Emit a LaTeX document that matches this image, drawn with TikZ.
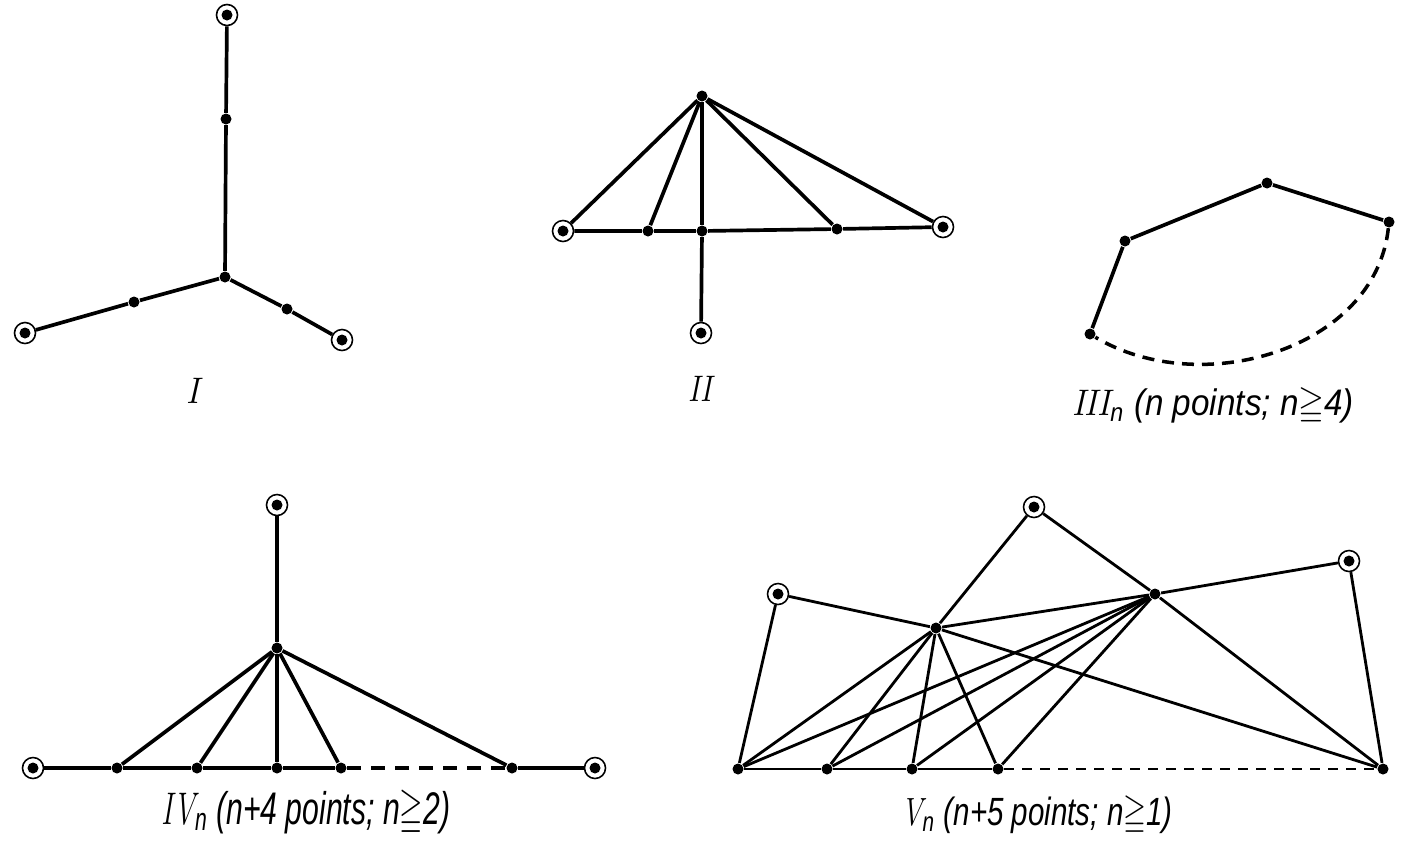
\documentclass[tikz,border=0pt]{standalone}
\usepackage{amssymb}
\usepackage{fontspec}
\newfontfamily\lblfont{Liberation Sans}
\newcommand{\graphname}[3]{\scalebox{#1}[1]{\fontsize{#2}{#2}\selectfont #3}}
\tikzset{
	pt/.style={circle, fill=black, inner sep=0pt, minimum size=0.11cm},
	ring/.style={circle, draw=black, line width=0.45pt, fill=white, inner sep=0pt, minimum size=0.21cm,
		path picture={\fill[black] (path picture bounding box.center) circle (0.055cm);}},
	edge/.style={line width=1.05pt},
	thinedge/.style={line width=0.8pt},
	dashedge/.style={line width=1pt, dash pattern=on 0.12cm off 0.08cm},
	lbl/.style={font=\lblfont\itshape, inner sep=0pt}
}

\begin{document}
\begin{tikzpicture}[x=0.01cm, y=-0.01cm]
			%%%%% START %%%%%
			\useasboundingbox (0,0) rectangle (1410,848);
			
			% graph I
			\node[ring] (Itop) at (227,15) {};
			\node[pt] (Imid) at (226,119) {};
			\node[pt] (Ic) at (225,277) {};
			\node[pt] (Ilm) at (134,302) {};
			\node[ring] (Il) at (25,333) {};
			\node[pt] (Irm) at (287,309) {};
			\node[ring] (Ir) at (342,340) {};
			\draw[edge] (Itop) -- (Imid) -- (Ic);
			\draw[edge] (Ic) -- (Ilm) -- (Il);
			\draw[edge] (Ic) -- (Irm) -- (Ir);
			\node[lbl] (labI) at (193,391) {\graphname{0.9}{10.5}{\rmfamily I}};
			
			% graph II
			\node[pt] (IIa) at (702,96) {};
			\node[ring] (IIl) at (563,231) {};
			\node[pt] (IIp) at (648,231) {};
			\node[pt] (IIc) at (702,231) {};
			\node[pt] (IIq) at (837,229) {};
			\node[ring] (IIr) at (943,227) {};
			\node[ring] (IIb) at (701,333) {};
			\foreach \t in {IIl,IIp,IIc,IIq,IIr}
				\draw[edge] (IIa) -- (\t);
			\draw[edge] (IIl) -- (IIp) -- (IIc) -- (IIq) -- (IIr);
			\draw[edge] (IIc) -- (IIb);
			\node[lbl] (labII) at (700,389) {\graphname{0.8}{10.5}{\rmfamily II}};
			
			% graph III_n
			\node[pt] (IIIa) at (1090,334) {};
			\node[pt] (IIIb) at (1125,241) {};
			\node[pt] (IIIc) at (1267,183) {};
			\node[pt] (IIId) at (1389,222) {};
			\draw[edge] (IIIa) -- (IIIb) -- (IIIc) -- (IIId);
			\draw[dashedge] (IIId) .. controls (1375,350) and (1200,400) .. (IIIa);
			\node[lbl] (labIII) at (1213,406) {\graphname{0.9}{10.5}{{\rmfamily III}\textsubscript{n} (n points; n$\geqq$4)}};
			
			% graph IV_n
			\node[ring] (IVt) at (277,505) {};
			\node[pt] (IVh) at (277,648) {};
			\node[ring] (IVl) at (33,768) {};
			\node[pt] (IVb1) at (117,768) {};
			\node[pt] (IVb2) at (197,768) {};
			\node[pt] (IVb3) at (277,768) {};
			\node[pt] (IVb4) at (341,768) {};
			\node[pt] (IVb5) at (512,768) {};
			\node[ring] (IVr) at (595,768) {};
			\draw[edge] (IVt) -- (IVh);
			\foreach \t in {IVb1,IVb2,IVb3,IVb4,IVb5}
				\draw[edge] (IVh) -- (\t);
			\draw[edge] (IVl) -- (IVb1) -- (IVb2) -- (IVb3) -- (IVb4);
			\draw[dashedge, dash pattern=on 0.14cm off 0.1cm] (IVb4) -- (IVb5);
			\draw[edge] (IVb5) -- (IVr);
			\node[lbl] (labIV) at (306,813) {\graphname{0.66}{13}{{\rmfamily IV}\textsubscript{n} (n+4 points; n$\geqq$2)}};
			
			% graph V_n
			\node[ring] (Vl) at (778,594) {};
			\node[ring] (Vt) at (1034,507) {};
			\node[ring] (Vr) at (1349,561) {};
			\node[pt] (VA) at (936,628) {};
			\node[pt] (VB) at (1155,594) {};
			\node[pt] (Vb0) at (738,769) {};
			\node[pt] (Vb1) at (827,769) {};
			\node[pt] (Vb2) at (912,769) {};
			\node[pt] (Vb3) at (998,769) {};
			\node[pt] (Ve) at (1383,769) {};
			\draw[thinedge] (Vl) -- (Vb0);
			\draw[thinedge] (Vl) -- (VA) -- (Vt) -- (VB) -- (Vr) -- (Ve);
			\draw[thinedge] (VA) -- (VB) -- (Ve);
			\draw[thinedge] (VA) -- (Ve);
			\foreach \t in {Vb0,Vb1,Vb2,Vb3} {
				\draw[thinedge] (VA) -- (\t);
				\draw[thinedge] (VB) -- (\t);
			}
			\draw[thinedge] (Vb0) -- (Vb1) -- (Vb2) -- (Vb3);
			\draw[thinedge, dash pattern=on 0.1cm off 0.08cm] (Vb3) -- (Ve);
			\node[lbl] (labV) at (1037,816) {\graphname{0.75}{11.2}{{\rmfamily V}\textsubscript{n} (n+5 points; n$\geqq$1)}};
			
			%%%%% END %%%%%
\end{tikzpicture}
\end{document}
